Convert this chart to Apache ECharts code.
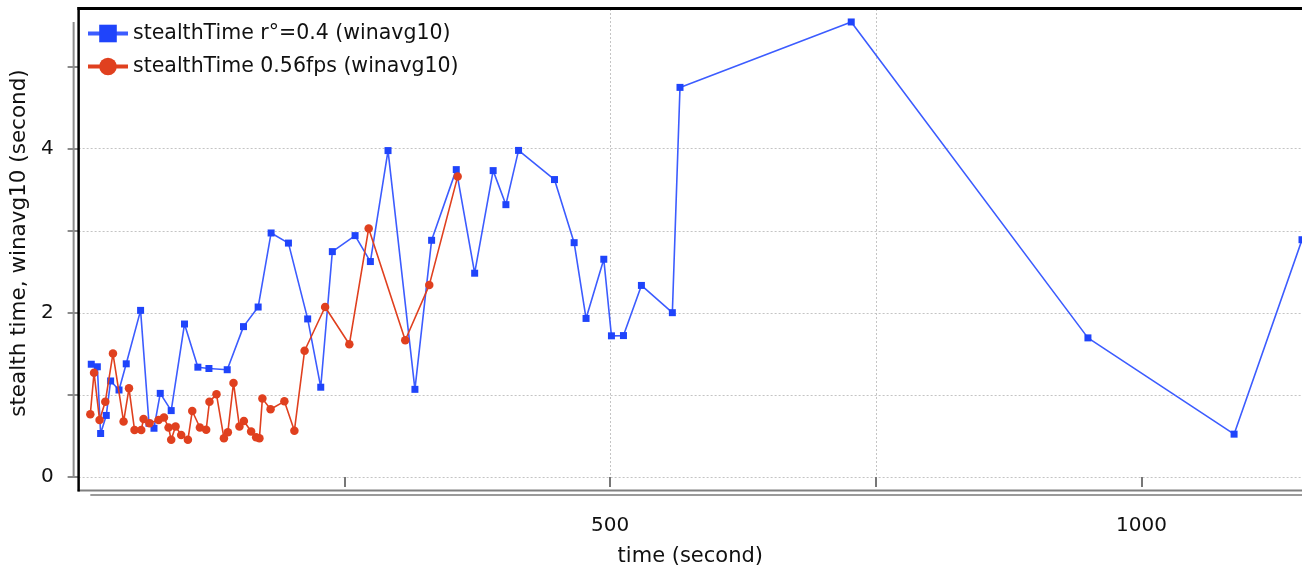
<!DOCTYPE html>
<html><head><meta charset="utf-8">
<script src="https://cdn.jsdelivr.net/npm/echarts@6/dist/echarts.min.js"></script>
<style>html,body{margin:0;padding:0;background:#fff}#main{width:1302px;height:572px}</style>
</head><body><div id="main"></div>
<script>
const blueName = 'stealthTime r°=0.4 (winavg10)';
const redName = 'stealthTime 0.56fps (winavg10)';
const xAxisName = 'time (second)';
const yAxisName = 'stealth time, winavg10 (second)';

const blueX = [11.9, 17.6, 20.7, 26.0, 30.1, 38.0, 44.8, 58.3, 66.2, 70.9, 76.8, 87.1, 99.6, 112.2, 122.6, 139.8, 155.1, 168.9, 181.1, 197.4, 215.5, 227.8, 238.7, 260.1, 274.5, 291.1, 316.4, 332.1, 355.3, 372.6, 390.0, 402.0, 413.9, 447.7, 466.2, 477.4, 494.1, 501.3, 512.6, 529.5, 558.6, 565.8, 726.9, 949.6, 1087.1, 1151];
const blueY = [1.374, 1.343, 0.530, 0.750, 1.170, 1.060, 1.379, 2.030, 0.655, 0.594, 1.019, 0.809, 1.864, 1.338, 1.322, 1.307, 1.832, 2.071, 2.973, 2.850, 1.926, 1.094, 2.746, 2.941, 2.625, 3.977, 1.068, 2.884, 3.745, 2.483, 3.733, 3.318, 3.979, 3.624, 2.855, 1.932, 2.653, 1.720, 1.723, 2.334, 2.002, 4.747, 5.544, 1.695, 0.522, 2.891];

const redX = [11.0, 14.5, 19.7, 25.1, 32.3, 42.3, 47.4, 52.6, 58.9, 61.1, 66.7, 75.2, 80.3, 84.6, 87.1, 91.2, 96.5, 102.8, 106.9, 114.1, 120.0, 123.1, 129.7, 136.7, 140.4, 145.7, 151.3, 155.5, 162.3, 167.0, 170.1, 172.9, 180.6, 193.6, 203.0, 212.6, 231.9, 254.7, 272.9, 307.3, 329.9, 356.6];
const redY = [0.764, 1.270, 0.695, 0.918, 1.504, 0.676, 1.080, 0.574, 0.574, 0.707, 0.655, 0.695, 0.724, 0.603, 0.453, 0.615, 0.513, 0.453, 0.804, 0.603, 0.576, 0.918, 1.007, 0.473, 0.546, 1.146, 0.615, 0.683, 0.554, 0.485, 0.473, 0.955, 0.825, 0.922, 0.564, 1.538, 2.071, 1.617, 3.029, 1.666, 2.338, 3.660];

const xTickValues = [250, 500, 750, 1000];
const xLabelValues = [500, 1000];
const yTickValues = [0, 1, 2, 3, 4, 5];
const yLabelValues = [0, 2, 4];

const FONT = 'DejaVu Sans';
const BLUE = '#1f44fb';
const BLUE_LINE = '#3c5cff';
const RED = '#e0401f';

const chart = echarts.init(document.getElementById('main'), null, {renderer: 'canvas'});

const option = {
  animation: false,
  backgroundColor: '#fff',
  grid: {left: 77, right: 0, top: 9, bottom: 93, containLabel: false},
  legend: {
    orient: 'vertical', left: 81, top: 18, itemWidth: 40, itemHeight: 22, itemGap: 12,
    data: [blueName, redName],
    textStyle: {fontFamily: FONT, fontSize: 20.5, color: '#111'},
    lineStyle: {width: 4}
  },
  xAxis: {
    type: 'value', min: 0, max: 1151, interval: 250, offset: 18,
    name: xAxisName, nameLocation: 'middle', nameGap: 51,
    nameTextStyle: {fontFamily: FONT, fontSize: 21, color: '#111'},
    axisLine: {show: false},
    axisTick: {show: true, customValues: xTickValues, length: 10, lineStyle: {color: '#777', width: 2}},
    axisLabel: {customValues: xLabelValues, margin: 21, fontFamily: FONT, fontSize: 20, color: '#111',
      formatter: v => xLabelValues.indexOf(v) >= 0 ? String(v) : ''},
    splitLine: {show: true, showMinLine: false, showMaxLine: false, lineStyle: {color: '#c4c4c4', width: 1, type: [2, 2]}}
  },
  yAxis: {
    type: 'value', min: 0, max: 5.702, interval: 1, offset: 5,
    name: yAxisName, nameLocation: 'middle', nameGap: 42, nameRotate: 90,
    nameTextStyle: {fontFamily: FONT, fontSize: 21.5, color: '#111'},
    axisLine: {show: false},
    axisTick: {show: true, customValues: yTickValues, length: 11, lineStyle: {color: '#8a8a8a', width: 2}},
    axisLabel: {customValues: yLabelValues, margin: 20, fontFamily: FONT, fontSize: 20, color: '#111',
      formatter: v => yLabelValues.indexOf(v) >= 0 ? String(v) : ''},
    splitLine: {show: true, showMaxLine: false, lineStyle: {color: '#c4c4c4', width: 1, type: [2, 2]}}
  },
  series: [
    {
      name: blueName, type: 'line',
      data: blueX.map((x, i) => [x, blueY[i]]),
      symbol: 'rect', symbolSize: 7,
      lineStyle: {color: BLUE_LINE, width: 1.6},
      itemStyle: {color: BLUE},
      z: 3
    },
    {
      name: redName, type: 'line',
      data: redX.map((x, i) => [x, redY[i]]),
      symbol: 'circle', symbolSize: 8.5,
      lineStyle: {color: RED, width: 1.6},
      itemStyle: {color: RED},
      z: 4
    }
  ]
};
chart.setOption(option);

// Decorations: range-frame axis lines and plot frame, positioned through the chart's own scales
const px = (x, y) => chart.convertToPixel({gridIndex: 0}, [x, y]);
const allY = blueY.concat(redY);
const allX = blueX.concat(redX);
const pOrigin = px(0, 0);
const pTop = px(0, 5.702);
const yLineTop = px(0, Math.max.apply(null, allY));
const xLineStart = px(Math.min.apply(null, allX), 0);
const pRight = px(1151, 0);
const leftX = pOrigin[0];
const bottomFrame = pOrigin[1] + 13.5;
const axisYLineX = leftX - 5;
const axisXLineY = pOrigin[1] + 18;

chart.setOption({
  graphic: [
    {type: 'line', z: 50, silent: true, shape: {x1: axisYLineX, y1: yLineTop[1], x2: axisYLineX, y2: pOrigin[1] + 1},
      style: {stroke: '#8c8c8c', lineWidth: 2}},
    {type: 'line', z: 50, silent: true, shape: {x1: xLineStart[0], y1: axisXLineY, x2: pRight[0] + 2, y2: axisXLineY},
      style: {stroke: '#9a9a9a', lineWidth: 2}},
    {type: 'line', z: 50, silent: true, shape: {x1: leftX - 1, y1: bottomFrame, x2: pRight[0] + 2, y2: bottomFrame},
      style: {stroke: '#808080', lineWidth: 2}},
    {type: 'line', z: 51, silent: true, shape: {x1: leftX, y1: pTop[1] - 2, x2: leftX, y2: bottomFrame + 1},
      style: {stroke: '#000', lineWidth: 2.5}},
    {type: 'line', z: 51, silent: true, shape: {x1: leftX - 1.2, y1: pTop[1] - 0.5, x2: pRight[0] + 2, y2: pTop[1] - 0.5},
      style: {stroke: '#000', lineWidth: 3}}
  ]
});
</script>
</body></html>
